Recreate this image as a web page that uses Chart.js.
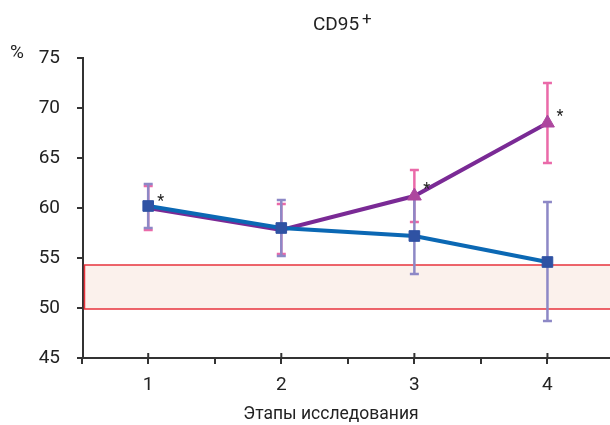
<!DOCTYPE html>
<html>
<head>
<meta charset="utf-8">
<script src="https://cdn.jsdelivr.net/npm/chart.js@4"></script>
<style>
  html, body { margin: 0; padding: 0; background: #fff; overflow: hidden; }
  #wrap { width: 610px; height: 425px; }
  canvas { display: block; }
</style>
</head>
<body>
<div id="wrap"><canvas id="chart" width="610" height="425"></canvas></div>
<script>
// Data
const stages = [1, 2, 3, 4];
const seriesBlue = [60.2, 58.0, 57.2, 54.6];
const blueLow = [58.0, 55.2, 53.4, 48.7];
const blueHigh = [62.4, 60.8, 61.0, 60.6];
const seriesPurple = [60.0, 57.8, 61.2, 68.5];
const purpleLow = [57.8, 55.4, 58.6, 64.5];
const purpleHigh = [62.2, 60.4, 63.8, 72.5];
const starred = [true, false, true, true]; // asterisks next to purple points
const normLow = 49.9;
const normHigh = 54.3;
const yTicks = [45, 50, 55, 60, 65, 70, 75];
const xTitle = 'Этапы исследования';

const fontFamily = "'Roboto', 'Liberation Sans', sans-serif";
const axisColor = '#333333';
const blueLine = '#0b68b4';
const blueMarker = '#2f52a3';
const purpleLine = '#7a2a95';
const purpleMarker = '#ad479e';
const lavender = '#8d88c6';
const pink = '#ea6aa9';

// ticks at every half stage, labels only on whole stages
const xTickValues = [0.5].concat(...stages.map(s => [s, s + 0.5])).filter(v => v <= 4);

// reference band, error bars, stars, title and misc text
const decorations = {
    id: 'decorations',
    beforeDatasetsDraw(chart) {
        const { ctx, chartArea, scales: { x, y } } = chart;
        const top = y.getPixelForValue(normHigh);
        const bot = y.getPixelForValue(normLow);
        ctx.save();
        ctx.fillStyle = '#fbf1ec';
        ctx.fillRect(chartArea.left + 1, top, chartArea.right - chartArea.left, bot - top);
        ctx.strokeStyle = '#e8333c';
        ctx.lineWidth = 1.5;
        ctx.beginPath();
        ctx.moveTo(chartArea.right, top);
        ctx.lineTo(chartArea.left + 1.5, top);
        ctx.lineTo(chartArea.left + 1.5, bot);
        ctx.lineTo(chartArea.right, bot);
        ctx.stroke();

        const bars = (lows, highs, color) => {
            ctx.strokeStyle = color;
            ctx.lineWidth = 2.5;
            stages.forEach((s, i) => {
                const px = x.getPixelForValue(s);
                const y1 = y.getPixelForValue(lows[i]);
                const y2 = y.getPixelForValue(highs[i]);
                ctx.beginPath();
                ctx.moveTo(px, y1); ctx.lineTo(px, y2);
                ctx.moveTo(px - 4.5, y1); ctx.lineTo(px + 4.5, y1);
                ctx.moveTo(px - 4.5, y2); ctx.lineTo(px + 4.5, y2);
                ctx.stroke();
            });
        };
        bars(purpleLow, purpleHigh, pink);
        bars(blueLow, blueHigh, lavender);
        ctx.restore();
    },
    afterDraw(chart) {
        const { ctx, chartArea, scales: { x, y } } = chart;
        ctx.save();
        // upward half of major x ticks
        ctx.strokeStyle = axisColor;
        ctx.lineWidth = 2;
        stages.forEach(s => {
            const px = x.getPixelForValue(s);
            ctx.beginPath();
            ctx.moveTo(px, chartArea.bottom);
            ctx.lineTo(px, chartArea.bottom - 5);
            ctx.stroke();
        });
        // asterisks
        ctx.fillStyle = '#222';
        ctx.font = '16px ' + fontFamily;
        ctx.textAlign = 'left';
        ctx.textBaseline = 'middle';
        stages.forEach((s, i) => {
            if (!starred[i]) return;
            ctx.fillText('*', x.getPixelForValue(s) + 9, y.getPixelForValue(seriesPurple[i]) - 6);
        });
        // title
        ctx.fillStyle = '#222';
        ctx.font = '19px ' + fontFamily;
        ctx.textBaseline = 'alphabetic';
        const t = 'CD95';
        const w = ctx.measureText(t).width;
        const tx = 336 - w / 2;
        ctx.fillText(t, tx, 30);
        ctx.font = '17px ' + fontFamily;
        ctx.fillText('+', tx + w + 3, 24);
        // unit
        ctx.font = '19px ' + fontFamily;
        ctx.fillText('%', 10, 58);
        // axis title
        ctx.font = '17.5px ' + fontFamily;
        ctx.textAlign = 'center';
        ctx.fillText(xTitle, 331, 419);
        ctx.restore();
    }
};

new Chart(document.getElementById('chart'), {
    type: 'line',
    data: {
        datasets: [
            {
                label: 'blue',
                data: stages.map((s, i) => ({ x: s, y: seriesBlue[i] })),
                borderColor: blueLine,
                borderWidth: 4,
                pointStyle: 'rect',
                pointRadius: 7.5,
                pointBackgroundColor: blueMarker,
                pointBorderColor: blueMarker,
                pointBorderWidth: 1
            },
            {
                label: 'purple',
                data: stages.map((s, i) => ({ x: s, y: seriesPurple[i] })),
                borderColor: purpleLine,
                borderWidth: 4,
                pointStyle: 'triangle',
                pointRadius: [0, 0, 8, 8],
                pointBackgroundColor: purpleMarker,
                pointBorderColor: purpleMarker,
                pointBorderWidth: 1
            }
        ]
    },
    options: {
        responsive: false,
        animation: false,
        layout: { autoPadding: false, padding: { top: 58, right: 0, left: 0, bottom: 0 } },
        plugins: { legend: { display: false }, tooltip: { enabled: false }, title: { display: false } },
        scales: {
            x: {
                type: 'linear',
                min: 0.51,
                max: 4.47,
                afterBuildTicks: scale => {
                    scale.ticks = xTickValues.map(v => ({ value: v }));
                },
                afterFit: scale => {
                    scale.height = 67;
                    scale.paddingLeft = 0;
                    scale.paddingRight = 0;
                },
                ticks: {
                    color: '#222',
                    font: { family: fontFamily, size: 19 },
                    padding: 10,
                    maxRotation: 0,
                    autoSkip: false,
                    callback: v => Number.isInteger(v) ? String(v) : ''
                },
                grid: { drawOnChartArea: false, drawTicks: true, tickLength: 6, color: axisColor, lineWidth: 2 },
                border: { display: true, color: axisColor, width: 2 }
            },
            y: {
                min: 45,
                max: 75,
                afterBuildTicks: scale => {
                    scale.ticks = yTicks.map(v => ({ value: v }));
                },
                afterFit: scale => { scale.width = 83; },
                ticks: {
                    color: '#222',
                    font: { family: fontFamily, size: 19 },
                    padding: 17
                },
                grid: { drawOnChartArea: false, drawTicks: true, tickLength: 6, color: axisColor, lineWidth: 2 },
                border: { display: true, color: axisColor, width: 2 }
            }
        }
    },
    plugins: [decorations]
});
</script>
</body>
</html>
